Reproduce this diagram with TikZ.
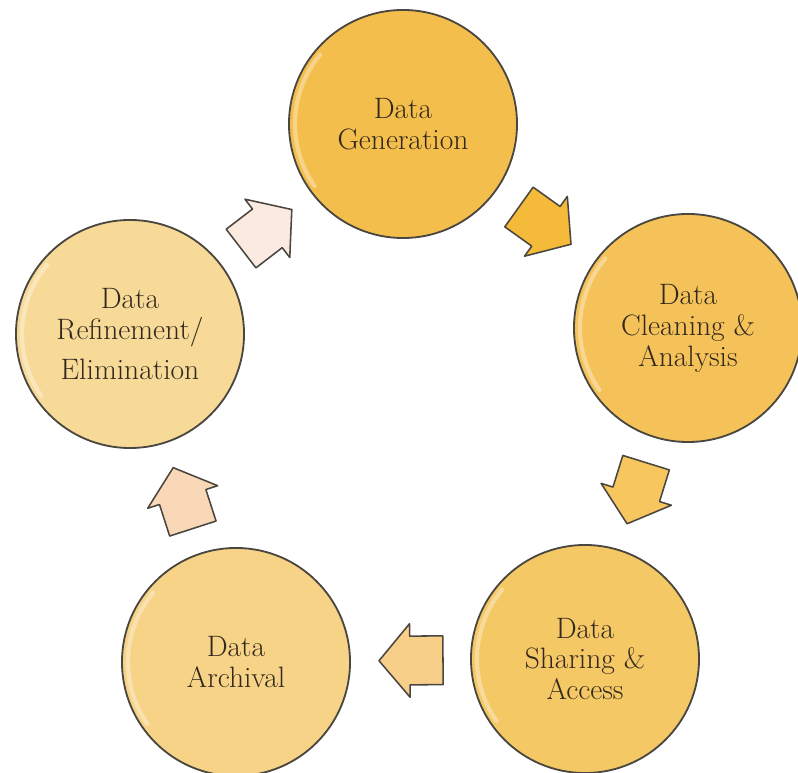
\documentclass[tikz,border=0pt]{standalone}
\usepackage{fontspec}
\usetikzlibrary{shapes.arrows}
\definecolor{stagegold}{HTML}{F4BE4C}
\definecolor{stagegold2}{HTML}{F5C25A}
\definecolor{stagemid}{HTML}{F5C866}
\definecolor{stagelight}{HTML}{F6D386}
\definecolor{stagepale}{HTML}{F7DA98}
\definecolor{arrowgold}{HTML}{F5BA3A}
\definecolor{arrowmid}{HTML}{F7C65E}
\definecolor{arrowlight}{HTML}{F8CF88}
\definecolor{arrowpeach}{HTML}{F9D8B8}
\definecolor{arrowpale}{HTML}{FBEADF}
\definecolor{rimgray}{HTML}{4A4640}
\definecolor{textbrown}{HTML}{33281D}

\tikzset{
  stage/.style={circle, draw=rimgray, line width=1.3pt, minimum size=5.7cm,
    inner sep=0pt, align=center, text=textbrown,
    font=\fontsize{21}{22}\selectfont\addfontfeature{FakeBold=2}},
  blockarrow/.style={single arrow, draw=rimgray, line width=1.1pt,
    line join=round, minimum height=1.6cm, minimum width=1.8cm,
    inner xsep=0pt, inner ysep=0.59cm, single arrow tip angle=100,
    single arrow head extend=0.31cm, pos=0.41, sloped, allow upside down},
  gloss/.style={white, opacity=0.35, line width=3pt, line cap=round}
}

\begin{document}
\begin{tikzpicture}[x=0.025cm, y=-0.025cm]
   \useasboundingbox (0,0) rectangle (798,773);
   % the five stages of the cycle
   \node[stage, fill=stagegold] (gen) at (403,124) {Data\\Generation};
   \node[stage, fill=stagegold2] (clean) at (688,328) {Data\\Cleaning \&\\Analysis};
   \node[stage, fill=stagemid] (share) at (585,659) {Data\\Sharing \&\\Access};
   \node[stage, fill=stagelight] (arch) at (236,662) {Data\\Archival};
   \node[stage, fill=stagepale] (refine) at (130,334) {Data\\Refinement/\\[6pt]Elimination};
   % glossy rim on each disc
   \foreach \n in {gen,clean,share,arch,refine}
      \draw[gloss] ([shift={(140:2.7cm)}]\n.center) arc[start angle=140, end angle=215, radius=2.7cm];
   % block arrows between the stages
   \path (gen) -- node[blockarrow, fill=arrowgold] (a1) {} (clean);
   \path (clean) -- node[blockarrow, fill=arrowmid] (a2) {} (share);
   \path (share) -- node[blockarrow, fill=arrowlight] (a3) {} (arch);
   \path (arch) -- node[blockarrow, fill=arrowpeach] (a4) {} (refine);
   \path (refine) -- node[blockarrow, fill=arrowpale] (a5) {} (gen);
\end{tikzpicture}
\end{document}
